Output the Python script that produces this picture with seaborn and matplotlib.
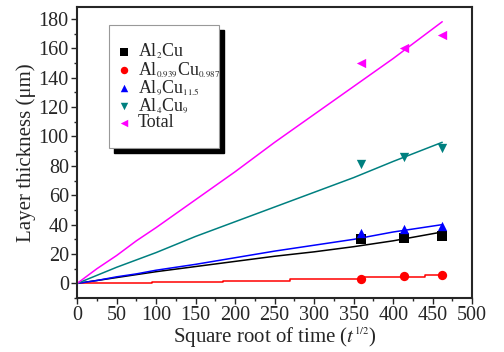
import numpy as np
import pandas as pd
import matplotlib
matplotlib.use('Agg')
import matplotlib.pyplot as plt
import matplotlib._mathtext as mtext
import seaborn as sns
from matplotlib.ticker import MultipleLocator
from matplotlib.patches import Rectangle

# simulated growth curves
x_line = [0, 25, 50, 75, 100, 150, 200, 250, 300, 350, 400, 462]
total_line = [0, 10, 19, 29, 38, 57, 76, 96, 115, 134, 153, 178]
al4cu9_line = [0, 5.5, 11, 16, 21, 32, 42, 52, 62, 72, 83, 96]
al9cu_line = [0, 2, 4.5, 6.5, 9, 13, 17.5, 22, 26, 30, 35, 40]
al2cu_line = [0, 2, 4, 6, 8, 11.5, 15, 18.5, 21.5, 25, 29, 35]
red_x = [0, 95, 95, 185, 185, 270, 270, 360, 360, 440, 440, 462]
red_line = [0, 0, 1, 1, 2, 2, 3, 3, 4.3, 4.3, 5.5, 5.5]

# measured points
x_pts = [359, 414, 462]
al2cu_pts = [30, 31, 32]
alcu_pts = [3, 5, 6]
al9cu_pts = [34, 37, 39]
al4cu9_pts = [81, 86, 92]
total_pts = [150, 160, 169]

sns.set_style('ticks')
plt.rcParams['font.family'] = ['Liberation Serif', 'DejaVu Serif']
plt.rcParams['mathtext.fontset'] = 'stix'
mtext.SHRINK_FACTOR = 0.5  # small sub/superscripts like the original

fig = plt.figure(figsize=(5.04, 3.52), dpi=100)
ax = fig.add_axes([0.153, 0.153, 0.784, 0.827])

lines = [(x_line, al2cu_line, 'black'), (red_x, red_line, 'red'),
         (x_line, al9cu_line, 'blue'), (x_line, al4cu9_line, '#008080'),
         (x_line, total_line, '#ff00ff')]
for xs, ys, c in lines:
    sns.lineplot(x=xs, y=ys, color=c, lw=1.1, estimator=None, sort=False, ax=ax)

pts = [(al2cu_pts, 'black', 's', r'Al$_2$Cu'),
       (alcu_pts, 'red', 'o', r'Al$_{0.939}$Cu$_{0.987}$'),
       (al9cu_pts, 'blue', '^', r'Al$_9$Cu$_{11.5}$'),
       (al4cu9_pts, '#008080', 'v', r'Al$_4$Cu$_9$'),
       (total_pts, '#ff00ff', '<', 'Total')]
for ys, c, m, lab in pts:
    sns.scatterplot(x=x_pts, y=ys, color=c, marker=m, s=45, edgecolor=c,
                    linewidth=0, label=lab, ax=ax, zorder=3)

ax.set_xlim(0, 500)
ax.set_ylim(-10, 188)
ax.set_xticks(range(0, 501, 50))
ax.set_yticks(range(0, 181, 20))
ax.xaxis.set_minor_locator(MultipleLocator(25))
ax.yaxis.set_minor_locator(MultipleLocator(10))
ax.tick_params(which='major', direction='out', length=4, width=1, labelsize=14.5, pad=2)
ax.tick_params(which='minor', direction='out', length=2, width=1)
for s in ax.spines.values():
    s.set_visible(True)
    s.set_linewidth(1.5)

ax.set_xlabel(r'Square root of time ($t^{1/2}$)', fontsize=15, labelpad=0)
ax.set_ylabel('Layer thickness (μm)', fontsize=15, labelpad=2)

# legend frame with solid black drop shadow
W, H = 504, 352
bx0, bx1, by0, by1 = 109, 219, 25, 148
fig.patches.append(Rectangle((bx0 / W + 5 / W, 1 - by1 / H - 5 / H), (bx1 - bx0) / W,
                             (by1 - by0) / H, transform=fig.transFigure,
                             facecolor='black', edgecolor='black', zorder=5))
fig.patches.append(Rectangle((bx0 / W, 1 - by1 / H), (bx1 - bx0) / W, (by1 - by0) / H,
                             transform=fig.transFigure, facecolor='white',
                             edgecolor='#999999', lw=0.8, zorder=6))

leg = ax.legend(loc='upper left', bbox_to_anchor=(115 / W, 1 - 42 / H),
                bbox_transform=fig.transFigure, fontsize=13, frameon=False,
                handletextpad=0.25, handlelength=1.0, borderpad=0,
                borderaxespad=0, labelspacing=-0.05, markerscale=0.8)
leg.set_zorder(7)
leg.remove()
fig.legends.append(leg)
leg.set_figure(fig)

fig.savefig('out.png', dpi=100)
